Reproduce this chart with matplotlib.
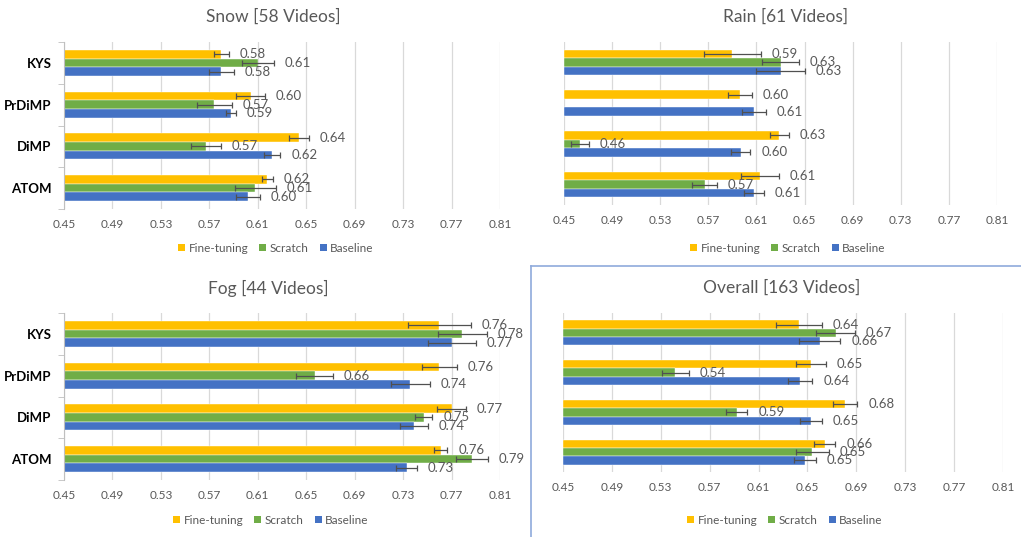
import numpy as np
import matplotlib.pyplot as plt
from matplotlib.patches import Patch
from matplotlib.lines import Line2D

plt.rcParams['font.family'] = ['Lato', 'DejaVu Sans']

# categories, top to bottom as shown
trackers = ['KYS', 'PrDiMP', 'DiMP', 'ATOM']
series_names = ['Fine-tuning', 'Scratch', 'Baseline']
xticks = [0.45, 0.49, 0.53, 0.57, 0.61, 0.65, 0.69, 0.73, 0.77, 0.81]

# Snow [58 Videos]
snow_ft = [0.580, 0.604, 0.644, 0.618]
snow_sc = [0.610, 0.574, 0.567, 0.608]
snow_bl = [0.580, 0.588, 0.622, 0.602]
snow_ft_err = [0.006, 0.012, 0.008, 0.0045]
snow_sc_err = [0.013, 0.0145, 0.0125, 0.0168]
snow_bl_err = [0.010, 0.004, 0.0066, 0.010]

# Rain [61 Videos]  (no Scratch bar for PrDiMP)
rain_ft = [0.590, 0.596, 0.629, 0.613]
rain_sc = [0.630, np.nan, 0.463, 0.567]
rain_bl = [0.630, 0.608, 0.597, 0.608]
rain_ft_err = [0.024, 0.010, 0.0078, 0.016]
rain_sc_err = [0.015, np.nan, 0.0075, 0.0102]
rain_bl_err = [0.020, 0.010, 0.008, 0.008]

# Fog [44 Videos]
fog_ft = [0.760, 0.760, 0.770, 0.761]
fog_sc = [0.779, 0.657, 0.747, 0.787]
fog_bl = [0.770, 0.736, 0.739, 0.733]
fog_ft_err = [0.026, 0.0143, 0.012, 0.0056]
fog_sc_err = [0.0204, 0.0151, 0.0072, 0.013]
fog_bl_err = [0.0198, 0.016, 0.0115, 0.0085]

# Overall [163 Videos]
all_ft = [0.643, 0.653, 0.681, 0.664]
all_sc = [0.673, 0.542, 0.592, 0.654]
all_bl = [0.660, 0.644, 0.653, 0.648]
all_ft_err = [0.0185, 0.012, 0.0097, 0.0087]
all_sc_err = [0.016, 0.0109, 0.0088, 0.0134]
all_bl_err = [0.0168, 0.0101, 0.0087, 0.0091]

colors = ['#FFC000', '#70AD47', '#4472C4']
W, H = 1021, 537


def px(x, y):
    return x / W, 1 - y / H


def draw_panel(rect, title, title_xy, legend_xy, vals, errs, show_cats):
    ax = fig.add_axes(rect)
    n = len(trackers)
    ypos = np.arange(n)[::-1]
    h = 0.208
    offs = [h, 0, -h]
    for k in range(3):
        v = np.array(vals[k], dtype=float)
        e = np.array(errs[k], dtype=float)
        ok = ~np.isnan(v)
        yy = ypos + offs[k]
        ax.barh(yy[ok], v[ok] - 0.45, left=0.45, height=h, color=colors[k],
                edgecolor='white', linewidth=0.3, zorder=2)
        ax.errorbar(v[ok], yy[ok], xerr=e[ok], fmt='none', ecolor='#505050',
                    elinewidth=0.9, capsize=2.5, capthick=0.9, zorder=3)
        for xv, ev, yv in zip(v[ok], e[ok], yy[ok]):
            ax.text(xv + ev + 0.009, yv, '%.2f' % xv, va='center', ha='left',
                    fontsize=9.5, color='#595959', zorder=4)
    ax.set_xlim(0.45, 0.81)
    ax.set_ylim(-0.5, n - 0.5)
    ax.set_xticks(xticks)
    ax.set_xticklabels(['%.2f' % t for t in xticks], fontsize=8.5, color='#595959')
    ax.tick_params(axis='x', length=0, pad=7)
    ax.grid(axis='x', color='#d9d9d9', linewidth=0.9, zorder=0)
    for s in ['top', 'right', 'bottom']:
        ax.spines[s].set_visible(False)
    if show_cats:
        ax.spines['left'].set_color('#bfbfbf')
        ax.set_yticks(ypos)
        ax.set_yticklabels(trackers, fontsize=9.5, fontweight='bold', color='black')
        ax.tick_params(axis='y', which='major', length=0, pad=9)
        ax.set_yticks(np.arange(-0.5, n), minor=True)
        ax.tick_params(axis='y', which='minor', length=4, color='#bfbfbf')
    else:
        ax.spines['left'].set_visible(False)
        ax.set_yticks([])
    fig.text(*px(*title_xy), title, ha='center', va='center', fontsize=12.5,
             color='#595959')
    handles = [Patch(facecolor=c, label=l) for c, l in zip(colors, series_names)]
    fig.legend(handles=handles, loc='center', bbox_to_anchor=px(*legend_xy),
               ncol=3, frameon=False, fontsize=8.5, handlelength=0.6,
               handleheight=0.6, handletextpad=0.3, columnspacing=0.9,
               labelcolor='#595959')
    return ax


fig = plt.figure(figsize=(W / 100, H / 100), dpi=100)

draw_panel([64 / W, 1 - 209 / H, 436 / W, 167 / H], 'Snow [58 Videos]', (273, 17),
           (276, 248), [snow_ft, snow_sc, snow_bl],
           [snow_ft_err, snow_sc_err, snow_bl_err], True)
draw_panel([564 / W, 1 - 205 / H, 433 / W, 163 / H], 'Rain [61 Videos]', (786, 17),
           (788, 248), [rain_ft, rain_sc, rain_bl],
           [rain_ft_err, rain_sc_err, rain_bl_err], False)
draw_panel([64 / W, 1 - 480 / H, 436 / W, 167 / H], 'Fog [44 Videos]', (268, 288),
           (271, 520), [fog_ft, fog_sc, fog_bl],
           [fog_ft_err, fog_sc_err, fog_bl_err], True)
draw_panel([563 / W, 1 - 472 / H, 440 / W, 159 / H], 'Overall [163 Videos]', (782, 288),
           (785, 520), [all_ft, all_sc, all_bl],
           [all_ft_err, all_sc_err, all_bl_err], False)

# selection border around the Overall chart
bx, by = px(531, 266)
fig.add_artist(Line2D([bx, bx], [0, by], color='#8faadc', linewidth=1.2))
fig.add_artist(Line2D([bx, 1], [by, by], color='#8faadc', linewidth=1.2))

fig.savefig('out.png', dpi=100)
